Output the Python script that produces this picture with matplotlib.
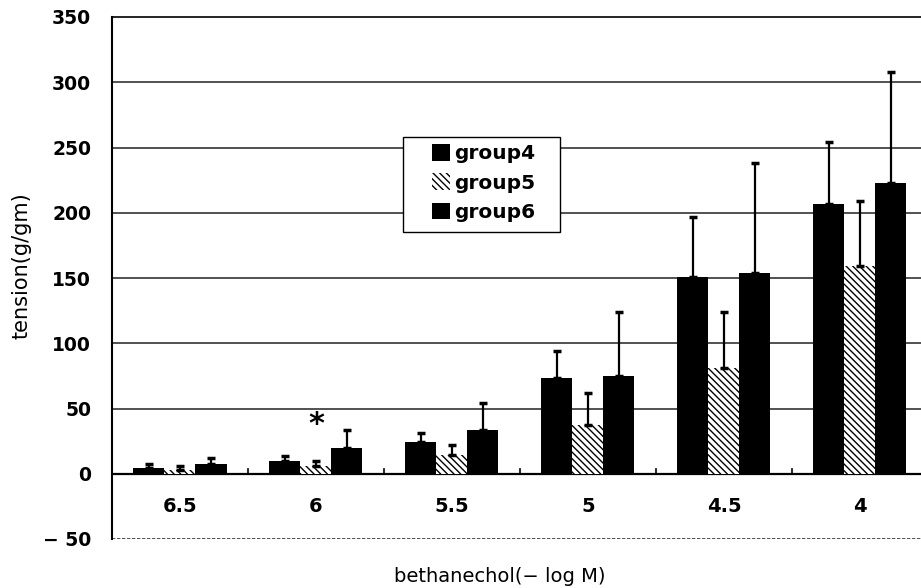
import matplotlib
matplotlib.use("Agg")
import matplotlib.pyplot as plt
from matplotlib.patches import Rectangle
import numpy as np

categories = ["6.5", "6", "5.5", "5", "4.5", "4"]
series_names = ["group4", "group5", "group6"]
group4 = [4.3, 10, 24.5, 73, 151, 207]
group5 = [3, 5.6, 14, 37, 81, 159]
group6 = [7.4, 19.7, 33.5, 75, 154, 223]
group4_err_top = [7.6, 13.5, 31.5, 94, 197, 254]
group5_err_top = [6, 9.7, 22, 62, 124, 209]
group6_err_top = [12, 33.7, 54.5, 124, 238, 308]
yticks = [-50, 0, 50, 100, 150, 200, 250, 300, 350]
ytick_labels = ["\u2212 50", "0", "50", "100", "150", "200", "250", "300", "350"]
star_category = 1
star_value = 38

plt.rcParams['font.family'] = ['DejaVu Sans']
plt.rcParams['hatch.linewidth'] = 1.0

fig = plt.figure(figsize=(9.21, 5.88), dpi=100)
ax = fig.add_axes([112/921, 49/588, 809/921, 522/588])

x = np.arange(len(categories))
w = 0.228
vals = [group4, group5, group6]
tops = [group4_err_top, group5_err_top, group6_err_top]
styles = [dict(color='black', linewidth=0),
          dict(facecolor='white', edgecolor='black', hatch='\\' * 5, linewidth=0),
          dict(color='black', linewidth=0)]
handles = []
for i, (v, t, st) in enumerate(zip(vals, tops, styles)):
    v = np.array(v); t = np.array(t)
    pos = x + (i - 1) * w
    b = ax.bar(pos, v, width=w, zorder=3, label=series_names[i], **st)
    handles.append(b)
    ax.errorbar(pos, v, yerr=[np.zeros_like(v), t - v], fmt='none',
                ecolor='black', elinewidth=1.6, capsize=3, capthick=2.5, zorder=4)

ax.text(star_category, star_value, "*", ha='center', va='center', fontsize=22,
        fontweight='bold', zorder=5)

ax.set_xlim(-0.5, 5.449)
ax.set_ylim(-50, 350)

for gy in [50, 100, 150, 200, 250, 300]:
    ax.axhline(gy, color='#222222', linewidth=1.1, zorder=1)
ax.axhline(-50, color='#333333', linewidth=1.2, linestyle=(0, (2, 1)), zorder=1)

for s in ['right', 'bottom']:
    ax.spines[s].set_visible(False)
ax.spines['top'].set_linewidth(1.2)
ax.spines['left'].set_linewidth(1.5)
ax.axhline(0, color='black', linewidth=1.6, zorder=2)

ax.set_yticks(yticks)
ax.set_yticklabels(ytick_labels, fontsize=13.5, fontweight='bold')
ax.tick_params(axis='y', length=0, pad=15)

ax.set_xticks([])
for xb in np.arange(0.5, 5.5, 1.0):
    ax.plot([xb, xb], [0, 4], color='black', linewidth=1.2, zorder=2)
for xi, lab in zip(x, categories):
    ax.text(xi, -25, lab, ha='center', va='center', fontsize=14, fontweight='bold')

fig.text(22/921, 1 - 266/588, "tension(g/gm)", rotation=90, ha='center', va='center',
         fontsize=15)
fig.text(500/921, 1 - 577/588, "bethanechol(\u2212 log M)", ha='center', va='center',
         fontsize=14)

# legend box
ax.add_patch(Rectangle(((403-112)/809, (356-49)/522), (560-403)/809, (232-137)/522,
                       transform=ax.transAxes, facecolor='white', edgecolor='black',
                       linewidth=1.0, zorder=5.5))
leg = ax.legend(handles=handles, loc='upper left',
                bbox_to_anchor=((432-112)/809, (444-49)/522),
                frameon=False, prop={'size': 14.5, 'weight': 'bold'},
                handlelength=0.9, handleheight=0.9,
                handletextpad=0.2, borderpad=0, labelspacing=0.5, borderaxespad=0)
leg.set_zorder(6)

fig.savefig("out.png", dpi=100)
